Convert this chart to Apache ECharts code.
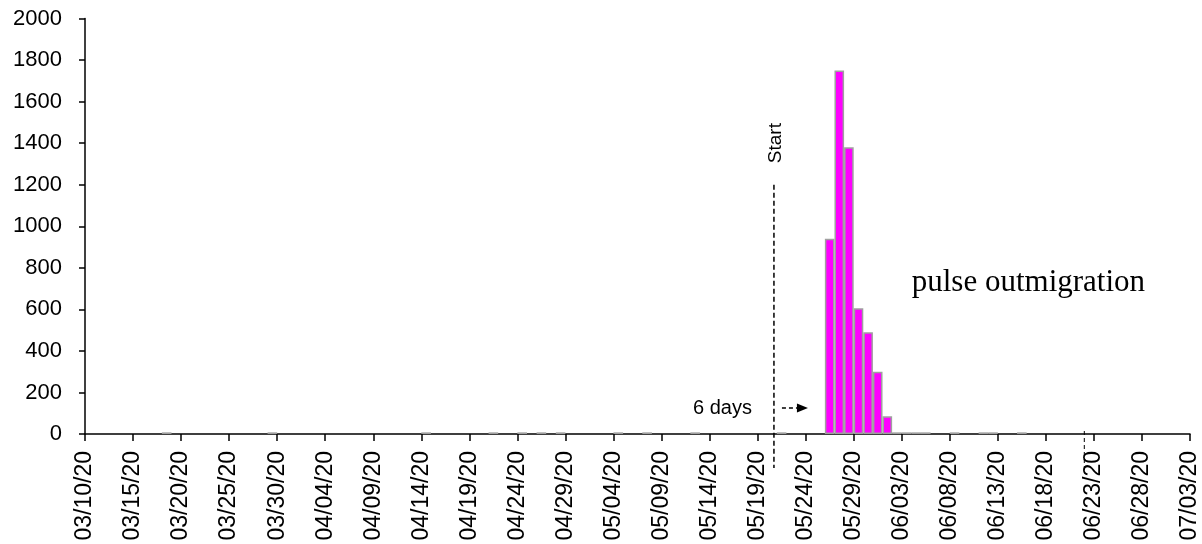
<!DOCTYPE html>
<html>
<head>
<meta charset="utf-8">
<script src="https://cdn.jsdelivr.net/npm/echarts@6/dist/echarts.min.js"></script>
<style>
  html, body { margin: 0; padding: 0; background: #fff; }
  #chart { width: 1202px; height: 544px; }
</style>
</head>
<body>
<div id="chart"></div>
<script>
function fmt(d) {
  const mm = String(d.getMonth() + 1).padStart(2, '0')
  const dd = String(d.getDate()).padStart(2, '0')
  return mm + '/' + dd + '/' + String(d.getFullYear()).slice(2)
}

// one category per day, 03/10/20 .. 07/03/20
const days = []
for (let i = 0; i < 116; i++) days.push(fmt(new Date(2020, 2, 10 + i)))
const barDays = days.slice(0, 115)

const tickLabels = [
  '03/10/20', '03/15/20', '03/20/20', '03/25/20', '03/30/20', '04/04/20',
  '04/09/20', '04/14/20', '04/19/20', '04/24/20', '04/29/20', '05/04/20',
  '05/09/20', '05/14/20', '05/19/20', '05/24/20', '05/29/20', '06/03/20',
  '06/08/20', '06/13/20', '06/18/20', '06/23/20', '06/28/20', '07/03/20'
]

const countDates = [
  '03/18/20', '03/29/20', '04/14/20', '04/21/20', '04/24/20', '04/26/20',
  '04/28/20', '05/04/20', '05/07/20', '05/12/20', '05/21/20',
  '05/26/20', '05/27/20', '05/28/20', '05/29/20', '05/30/20', '05/31/20', '06/01/20',
  '06/02/20', '06/03/20', '06/04/20', '06/05/20', '06/08/20', '06/11/20',
  '06/12/20', '06/15/20'
]
const countValues = [
  8, 8, 8, 8, 8, 8,
  8, 8, 8, 8, 8,
  940, 1750, 1380, 605, 490, 300, 85,
  8, 8, 8, 8, 8, 8,
  8, 8
]

const yTicks = [0, 200, 400, 600, 800, 1000, 1200, 1400, 1600, 1800, 2000]

const isTick = (i, v) => tickLabels.includes(v)
const sans = 'Liberation Sans, Arial, sans-serif'

const option = {
  animation: false,
  backgroundColor: '#fff',
  grid: { left: 85, right: 12, top: 18.5, bottom: 110 },
  xAxis: [
    {
      type: 'category',
      data: barDays,
      boundaryGap: true,
      position: 'bottom',
      show: false
    },
    {
      type: 'category',
      data: days,
      boundaryGap: false,
      position: 'bottom',
      axisLine: { onZero: false, lineStyle: { color: '#000', width: 1.5 } },
      axisTick: { interval: isTick, length: 7, lineStyle: { color: '#000', width: 1.5 } },
      axisLabel: {
        interval: isTick,
        rotate: 90,
        margin: 17,
        color: '#000',
        fontSize: 23,
        fontFamily: sans
      },
      splitLine: { show: false }
    }
  ],
  yAxis: {
    type: 'value',
    min: yTicks[0],
    max: yTicks[yTicks.length - 1],
    interval: 200,
    axisLine: { show: true, lineStyle: { color: '#000', width: 1.5 } },
    axisTick: { show: true, length: 6, lineStyle: { color: '#000', width: 1.5 } },
    axisLabel: {
      color: '#000', fontSize: 22, fontFamily: sans, margin: 23,
      formatter: v => String(v)
    },
    splitLine: { show: false }
  },
  series: [{
    type: 'bar',
    xAxisIndex: 0,
    data: countDates.map((d, i) => [d, countValues[i]]),
    barCategoryGap: '0%',
    itemStyle: { color: '#ff00ff', borderColor: '#a0a0a0', borderWidth: 1.5 }
  }]
}

const chart = echarts.init(document.getElementById('chart'))
chart.setOption(option)

// annotations, placed from the axes
const px = d => chart.convertToPixel({ xAxisIndex: 1 }, d)
const py = v => chart.convertToPixel({ yAxisIndex: 0 }, v)
const step = px(days[1]) - px(days[0])
const startX = px('05/21/20') - 0.3 * step
const baseY = py(0)
const arrowY = baseY - 26
const endX = px('06/22/20')

chart.setOption({
  graphic: [
    {
      type: 'line',
      shape: { x1: startX, y1: py(1200), x2: startX, y2: baseY + 34 },
      style: { stroke: '#000', lineWidth: 1.5, lineDash: [5, 3] }
    },
    {
      type: 'text',
      x: startX + 2, y: py(1400), rotation: Math.PI / 2,
      style: { text: 'Start', font: '19px ' + sans, fill: '#000', align: 'center', verticalAlign: 'middle' }
    },
    {
      type: 'text',
      x: startX - 22, y: arrowY,
      style: { text: '6 days', font: '20px ' + sans, fill: '#000', align: 'right', verticalAlign: 'middle' }
    },
    {
      type: 'line',
      shape: { x1: startX + 8, y1: arrowY, x2: startX + 24, y2: arrowY },
      style: { stroke: '#000', lineWidth: 1.5, lineDash: [4, 3] }
    },
    {
      type: 'polygon',
      shape: { points: [[startX + 23, arrowY - 4.5], [startX + 34, arrowY], [startX + 23, arrowY + 4.5]] },
      style: { fill: '#000' }
    },
    {
      type: 'line',
      shape: { x1: endX, y1: baseY - 3, x2: endX, y2: baseY + 36 },
      style: { stroke: '#000', lineWidth: 1, lineDash: [4, 3] }
    },
    {
      type: 'text',
      x: px('06/03/20') + 10, y: py(727),
      style: { text: 'pulse outmigration', font: '31px Liberation Serif, Times New Roman, serif', fill: '#000', align: 'left', verticalAlign: 'middle' }
    }
  ]
})
</script>
</body>
</html>
